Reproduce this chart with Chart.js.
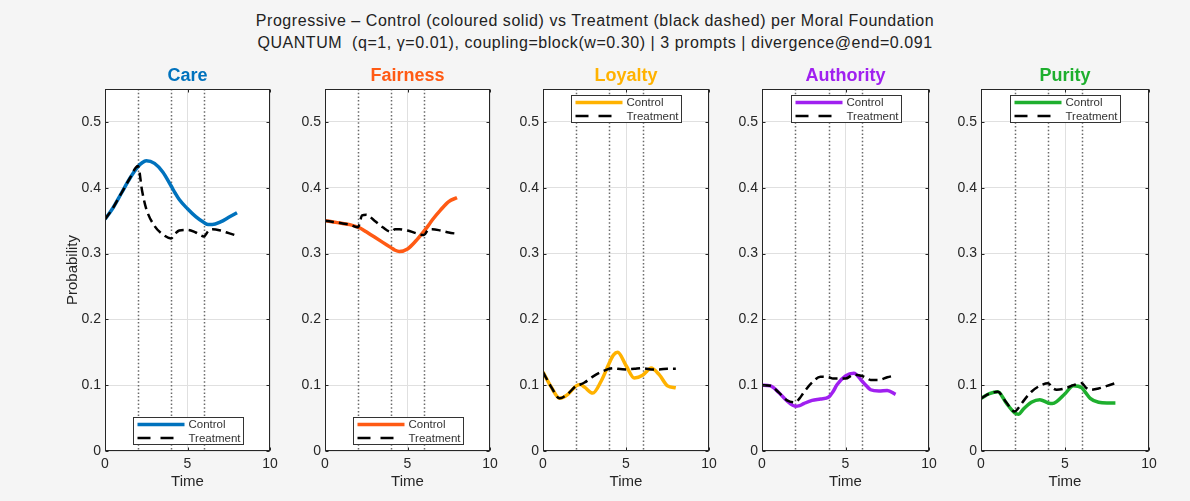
<!DOCTYPE html>
<html><head><meta charset="utf-8">
<script src="https://cdn.jsdelivr.net/npm/chart.js@4.4.0/dist/chart.umd.min.js"></script>
<style>
body{margin:0;width:1190px;height:501px;background:#f5f5f5;position:relative;overflow:hidden;font-family:"Liberation Sans",Arial,Helvetica,sans-serif;}
.t{position:absolute;left:0;width:1190px;text-align:center;font-size:16px;letter-spacing:0.55px;line-height:20px;color:#222;white-space:pre;}
.pt{position:absolute;text-align:center;font-weight:bold;font-size:18px;line-height:20px;}
canvas{position:absolute;}
</style></head><body>
<div class="t" style="top:11px">Progressive – Control (coloured solid) vs Treatment (black dashed) per Moral Foundation</div>
<div class="t" style="top:33px">QUANTUM  (q=1, γ=0.01), coupling=block(w=0.30) | 3 prompts | divergence@end=0.091</div>
<script>
// ---- data ----
const time = [0,0.5,1,1.5,2,2.25,2.5,3,3.5,4,4.25,4.5,5,5.5,6,6.25,6.5,7,7.5,8];
const careControl      = [0.352,0.370,0.392,0.414,0.432,0.438,0.441,0.437,0.424,0.403,0.392,0.382,0.368,0.356,0.347,0.344,0.344,0.348,0.355,0.362];
const careTreatment    = [0.352,0.370,0.392,0.414,0.433,0.395,0.368,0.342,0.329,0.323,0.330,0.335,0.336,0.332,0.326,0.334,0.337,0.335,0.331,0.327];
const fairnessControl  = [0.350,0.348,0.346,0.344,0.340,0.337,0.333,0.325,0.317,0.309,0.305,0.303,0.307,0.319,0.334,0.342,0.351,0.366,0.379,0.385];
const fairnessTreatment= [0.350,0.348,0.346,0.344,0.340,0.358,0.359,0.350,0.340,0.333,0.337,0.337,0.335,0.331,0.328,0.336,0.337,0.335,0.332,0.330];
const loyaltyControl   = [0.120,0.097,0.080,0.086,0.099,0.101,0.097,0.088,0.106,0.134,0.146,0.150,0.130,0.111,0.115,0.121,0.126,0.116,0.099,0.096];
const loyaltyTreatment = [0.120,0.097,0.080,0.087,0.099,0.101,0.104,0.113,0.120,0.125,0.126,0.125,0.124,0.125,0.126,0.125,0.124,0.124,0.125,0.125];
const authorityControl = [0.100,0.099,0.089,0.076,0.068,0.069,0.072,0.077,0.079,0.082,0.090,0.101,0.114,0.118,0.106,0.099,0.093,0.091,0.092,0.086];
const authorityTreatment=[0.100,0.099,0.089,0.077,0.074,0.080,0.089,0.104,0.113,0.112,0.110,0.110,0.110,0.116,0.114,0.111,0.108,0.108,0.112,0.115];
const purityControl    = [0.080,0.087,0.090,0.073,0.058,0.056,0.063,0.074,0.078,0.073,0.072,0.075,0.087,0.099,0.096,0.088,0.080,0.074,0.073,0.073];
const purityTreatment  = [0.080,0.087,0.090,0.074,0.060,0.066,0.075,0.090,0.099,0.103,0.096,0.093,0.095,0.100,0.103,0.096,0.093,0.095,0.099,0.103];

const foundations = ['Care','Fairness','Loyalty','Authority','Purity'];
const controlSeries = [careControl,fairnessControl,loyaltyControl,authorityControl,purityControl];
const treatmentSeries = [careTreatment,fairnessTreatment,loyaltyTreatment,authorityTreatment,purityTreatment];
const colors = ['#0072BD','#FF5A14','#FFB200','#A020F0','#1EAF2E'];
const legendPos = ['bottom','bottom','top','top','top'];
const promptTimes = [2,4,6];
const xTicks = [0,5,10];
const yTickLabels = ['0','0.1','0.2','0.3','0.4','0.5'];

// ---- layout ----
const plotL = [105,325,543,762,981];
const plotR = [270,490,709,929,1149];
const TOP = 55, H = 446, PADL = 60, PADR = 25, PADT = 34, XH = 50;
const FONT = '"Liberation Sans", Arial, Helvetica, sans-serif';
const AX = '#262626';

const decoPlugin = {
  id:'deco',
  beforeDraw(chart){
    const {ctx, chartArea:a} = chart;
    ctx.save(); ctx.fillStyle='#ffffff'; ctx.fillRect(a.left,a.top,a.right-a.left,a.bottom-a.top); ctx.restore();
  },
  beforeDatasetsDraw(chart){
    const {ctx, chartArea:a, scales:{x}} = chart;
    ctx.save();
    ctx.strokeStyle='#6a6a6a'; ctx.lineWidth=1.5; ctx.setLineDash([1.5,2.2]);
    promptTimes.forEach(t=>{
      const px = Math.round(x.getPixelForValue(t))+0.5;
      ctx.beginPath(); ctx.moveTo(px,a.top); ctx.lineTo(px,a.bottom); ctx.stroke();
    });
    ctx.restore();
  },
  afterDraw(chart){
    const {ctx, chartArea:a, scales:{x,y}} = chart;
    const o = chart.options.plugins.deco;
    ctx.save();
    ctx.strokeStyle=AX; ctx.lineWidth=1;
    const l=Math.round(a.left)+0.5, r=Math.round(a.right)-0.5, t=Math.round(a.top)+0.5, b=Math.round(a.bottom)-0.5;
    ctx.strokeRect(l,t,r-l,b-t);
    ctx.beginPath();
    y.ticks.forEach(tk=>{ const py=Math.round(y.getPixelForValue(tk.value))+0.5;
      ctx.moveTo(l,py); ctx.lineTo(l+3,py); ctx.moveTo(r,py); ctx.lineTo(r-3,py); });
    x.ticks.forEach(tk=>{ const px=Math.round(x.getPixelForValue(tk.value))+0.5;
      ctx.moveTo(px,b); ctx.lineTo(px,b-3); ctx.moveTo(px,t); ctx.lineTo(px,t+3); });
    ctx.stroke();
    // legend
    const ds = chart.data.datasets;
    const bw=110, bh=27;
    const cx=(a.left+a.right)/2;
    const bx=Math.round(cx-bw/2)+0.5;
    const by=o.legend==='bottom' ? Math.round(a.bottom-7-bh)+0.5 : Math.round(a.top+6)+0.5;
    ctx.fillStyle='#ffffff'; ctx.fillRect(bx,by,bw,bh);
    ctx.strokeStyle='#333'; ctx.lineWidth=1; ctx.setLineDash([]); ctx.strokeRect(bx,by,bw,bh);
    const rows=[by+7, by+20.5];
    ds.forEach((d,i)=>{
      const yy=rows[i];
      ctx.strokeStyle=d.borderColor; ctx.lineWidth=d.borderWidth;
      if(d.borderDash){ ctx.setLineDash([13,10]); } else ctx.setLineDash([]);
      ctx.beginPath(); ctx.moveTo(bx+4,yy); ctx.lineTo(bx+(d.borderDash?40:51),yy); ctx.stroke();
      ctx.setLineDash([]);
      ctx.fillStyle='#333'; ctx.font='11.5px '+FONT; ctx.textBaseline='middle'; ctx.textAlign='left';
      ctx.fillText(d.label, bx+55, yy+0.5);
    });
    ctx.restore();
  }
};

foundations.forEach((name,i)=>{
  const W = PADL + (plotR[i]-plotL[i]) + PADR;
  const cv = document.createElement('canvas');
  cv.width=W; cv.height=H;
  cv.style.left=(plotL[i]-PADL)+'px'; cv.style.top=TOP+'px';
  cv.style.width=W+'px'; cv.style.height=H+'px';
  document.body.appendChild(cv);
  const tt = document.createElement('div');
  tt.className='pt'; tt.textContent=name; tt.style.color=colors[i];
  tt.style.left=plotL[i]+'px'; tt.style.width=(plotR[i]-plotL[i])+'px'; tt.style.top='65px';
  document.body.appendChild(tt);

  new Chart(cv.getContext('2d'),{
    type:'line',
    data:{datasets:[
      {label:'Control', data:time.map((t,k)=>({x:t,y:controlSeries[i][k]})), borderColor:colors[i], borderWidth:3.5, pointRadius:0, cubicInterpolationMode:'monotone', order:1},
      {label:'Treatment', data:time.map((t,k)=>({x:t,y:treatmentSeries[i][k]})), borderColor:'#000000', borderWidth:2.5, borderDash:[9,5], pointRadius:0, cubicInterpolationMode:'monotone', order:0}
    ]},
    options:{
      responsive:false, animation:false, devicePixelRatio:1,
      layout:{padding:{top:PADT,right:PADR,left:0,bottom:0}},
      plugins:{legend:{display:false}, tooltip:{enabled:false}, title:{display:false}, deco:{legend:legendPos[i]}},
      scales:{
        x:{type:'linear', min:0, max:10,
          afterBuildTicks(s){ s.ticks = xTicks.map(v=>({value:v})); },
          afterFit(s){ s.height=XH; },
          grid:{color:'#e0e0e0', drawTicks:false},
          border:{display:false},
          ticks:{font:{family:FONT,size:14}, color:AX, padding:5, maxRotation:0, autoSkip:false},
          title:{display:true, text:'Time', font:{family:FONT,size:15}, color:AX, padding:{top:0,bottom:10}}
        },
        y:{type:'linear', min:0, max:0.55,
          afterBuildTicks(s){ s.ticks = yTickLabels.map(v=>({value:parseFloat(v)})); },
          afterFit(s){ s.width=PADL; },
          grid:{color:'#e0e0e0', drawTicks:false},
          border:{display:false},
          ticks:{font:{family:FONT,size:14}, color:AX, padding:4, callback:(v,k)=>yTickLabels[k]},
          title:{display:i===0, text:'Probability', font:{family:FONT,size:15}, color:AX, padding:{top:19,bottom:0}}
        }
      }
    },
    plugins:[decoPlugin]
  });
});
</script>
</body></html>
